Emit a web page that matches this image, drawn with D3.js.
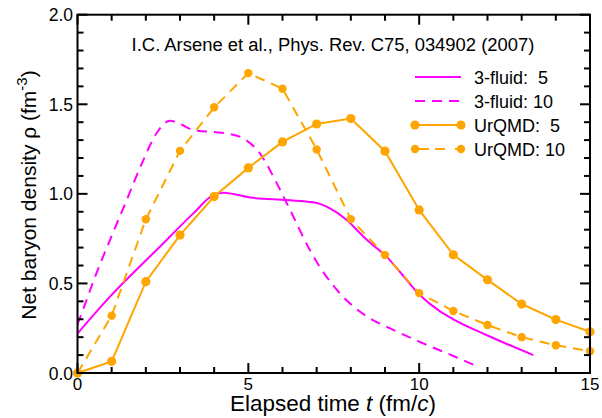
<!DOCTYPE html>
<html><head><meta charset="utf-8">
<script src="https://cdn.jsdelivr.net/npm/d3@7"></script>
<style>
body{margin:0;background:#fff;}
svg{display:block;font-family:"Liberation Sans",Arial,sans-serif;}
</style></head>
<body><svg id="c" width="602" height="418"></svg>
<script>
// ---- data ----
const urqmdTimes = [0,1,2,3,4,5,6,7,8,9,10,11,12,13,14,15];
const urqmd5  = [0,0.065,0.51,0.77,0.985,1.145,1.29,1.39,1.42,1.238,0.91,0.66,0.52,0.385,0.298,0.23];
const urqmd10 = [0,0.32,0.858,1.24,1.483,1.674,1.587,1.248,0.859,0.658,0.446,0.346,0.268,0.2,0.155,0.121];
const fluid5T = [0,0.95,2.41,3.39,3.97,4.27,5.05,6.12,6.9,7.39,7.88,8.37,8.76,9.0,9.5,10.02,10.6,11.0,11.97,13.34];
const fluid5V = [0.22,0.426,0.705,0.891,0.993,1.006,0.98,0.965,0.953,0.919,0.854,0.761,0.696,0.658,0.55,0.435,0.345,0.30,0.212,0.10];
const fluid10T = [0,0.27,0.5,0.95,1.44,1.93,2.32,2.71,3.0,3.39,4.0,4.37,4.85,5.34,5.83,6.32,6.8,7.29,7.68,7.97,8.56,9.15,10.0,11.0,11.6];
const fluid10V = [0.27,0.41,0.53,0.742,0.965,1.19,1.34,1.408,1.39,1.356,1.345,1.337,1.31,1.226,1.06,0.872,0.686,0.537,0.445,0.389,0.305,0.249,0.175,0.095,0.045];
const xTicks = [0,5,10,15];
const yTicks = [0,0.5,1.0,1.5,2.0];
const legendLabels = ["3-fluid:  5","3-fluid: 10","UrQMD:  5","UrQMD: 10"];
const citation = "I.C. Arsene et al., Phys. Rev. C75, 034902 (2007)";

const MAG = "#ff00ff", ORG = "#ffa500";
const svg = d3.select("#c");
const x = d3.scaleLinear().domain([0,15]).range([77.5,590]);
const y = d3.scaleLinear().domain([0,2]).range([373,14.7]);

function fit(sel, target, base){
  const w = sel.node().getComputedTextLength();
  if(w>0) sel.attr("font-size", base*target/w);
}

// curves
const line = d3.line().x(d=>x(d[0])).y(d=>y(d[1]));
const smooth = d3.line().x(d=>x(d[0])).y(d=>y(d[1])).curve(d3.curveMonotoneX);

const g = svg.append("g");
g.append("path").datum(fluid5T.map((t,i)=>[t,fluid5V[i]])).attr("d",smooth)
  .attr("fill","none").attr("stroke",MAG).attr("stroke-width",2);
g.append("path").datum(fluid10T.map((t,i)=>[t,fluid10V[i]])).attr("d",smooth)
  .attr("fill","none").attr("stroke",MAG).attr("stroke-width",2).attr("stroke-dasharray","10,7");
g.append("path").datum(urqmdTimes.map((t,i)=>[t,urqmd5[i]])).attr("d",line)
  .attr("fill","none").attr("stroke",ORG).attr("stroke-width",2);
g.append("path").datum(urqmdTimes.map((t,i)=>[t,urqmd10[i]])).attr("d",line)
  .attr("fill","none").attr("stroke",ORG).attr("stroke-width",2).attr("stroke-dasharray","10,7");
[urqmd5,urqmd10].forEach((arr,k)=>{
  g.selectAll(null).data(urqmdTimes.map((t,i)=>[t,arr[i]])).enter().append("circle")
    .attr("cx",d=>x(d[0])).attr("cy",d=>y(d[1])).attr("r",k===0?4.6:4.2).attr("fill",ORG);
});

// axes (ticks inward, on all four sides)
const a = svg.append("g").attr("stroke","#000").attr("stroke-width",2);
d3.range(0,16,1).forEach(t=>{
  const L = (t%5===0)?10:6;
  a.append("line").attr("x1",x(t)).attr("x2",x(t)).attr("y1",y(0)).attr("y2",y(0)-L);
  a.append("line").attr("x1",x(t)).attr("x2",x(t)).attr("y1",y(2)).attr("y2",y(2)+L);
});
d3.range(0,21,1).forEach(i=>{
  const v=i/10; const L=(i%5===0)?10:6;
  a.append("line").attr("y1",y(v)).attr("y2",y(v)).attr("x1",x(0)).attr("x2",x(0)+L);
  a.append("line").attr("y1",y(v)).attr("y2",y(v)).attr("x1",x(15)).attr("x2",x(15)-L);
});
svg.append("rect").attr("x",x(0)).attr("y",y(2)).attr("width",x(15)-x(0)).attr("height",y(0)-y(2))
  .attr("fill","none").attr("stroke","#000").attr("stroke-width",2);

svg.append("g").selectAll("text").data(xTicks).enter().append("text")
  .attr("x",d=>x(d)).attr("y",390).attr("text-anchor","middle")
  .attr("font-size",17).text(d=>d);
svg.append("g").selectAll("text").data(yTicks).enter().append("text")
  .attr("x",73).attr("y",d=>y(d)+6.5).attr("text-anchor","end")
  .attr("font-size",17.5).text(d=>d.toFixed(1));

// axis titles
const xt = svg.append("text").attr("x",333).attr("y",411).attr("text-anchor","middle").attr("font-size",20);
xt.append("tspan").text("Elapsed time ");
xt.append("tspan").attr("font-style","italic").text("t");
xt.append("tspan").text(" (fm/");
xt.append("tspan").attr("font-style","italic").text("c");
xt.append("tspan").text(")");
fit(xt, 206, 20);

const yt = svg.append("text").attr("transform","translate(35.5,195) rotate(-90)").attr("text-anchor","middle").attr("font-size",21);
yt.append("tspan").text("Net baryon density ρ (fm");
yt.append("tspan").attr("dy",-9).attr("font-size",15).text("-3");
yt.append("tspan").attr("dy",9).text(")");

// citation
const ct = svg.append("text").attr("x",333).attr("y",51).attr("text-anchor","middle").attr("font-size",16).text(citation);
fit(ct, 403, 16);

// legend
const legY = [77,101,125,149];
const lg = svg.append("g");
legendLabels.forEach((lab,i)=>{
  const col = i<2?MAG:ORG;
  const dashed = (i%2===1);
  lg.append("line").attr("x1",415).attr("x2",461).attr("y1",legY[i]).attr("y2",legY[i])
    .attr("stroke",col).attr("stroke-width",2).attr("stroke-dasharray",dashed?(i<2?"10,7":"0,4,10,6,10,6"):null);
  if(i>=2){
    [415,461].forEach(px=>lg.append("circle").attr("cx",px).attr("cy",legY[i]).attr("r",i===2?4.6:4.2).attr("fill",ORG));
  }
  lg.append("text").attr("x",474).attr("y",legY[i]+7).attr("font-size",18)
    .attr("xml:space","preserve").style("white-space","pre").text(lab);
});
</script></body></html>
